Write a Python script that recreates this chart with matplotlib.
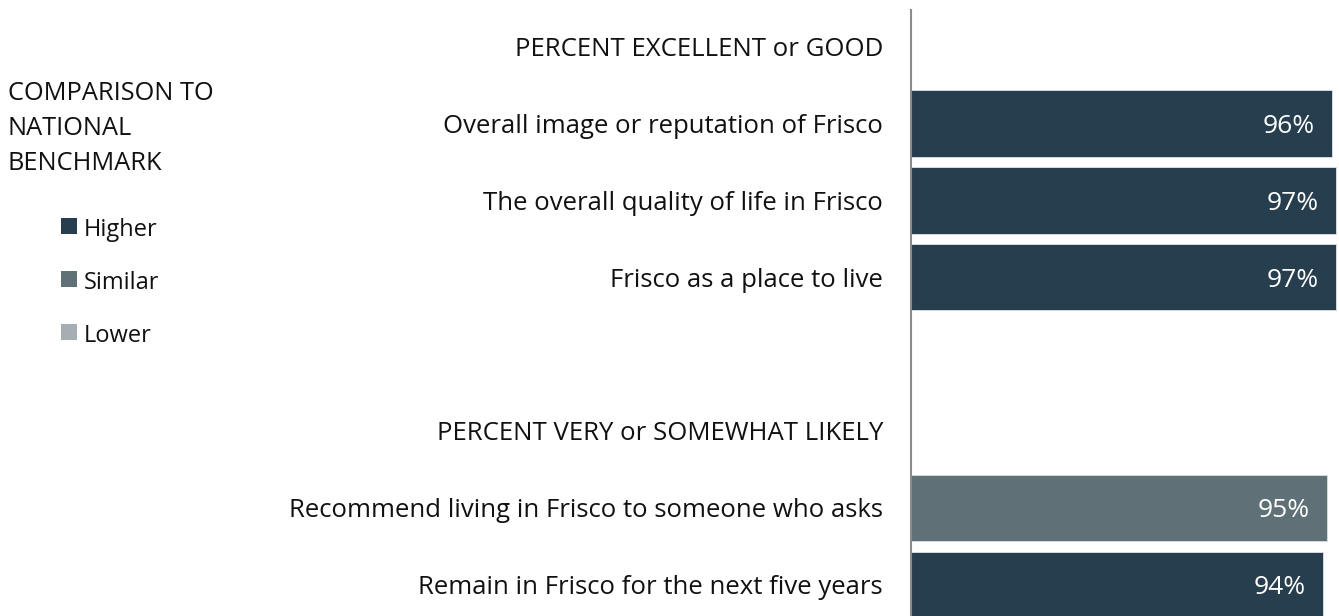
import matplotlib
matplotlib.use("Agg")
import matplotlib.pyplot as plt
from matplotlib.patches import Rectangle

plt.rcParams['font.family'] = ['Open Sans', 'DejaVu Sans']

# ---- data ----
row_labels = [
    "PERCENT EXCELLENT or GOOD",
    "Overall image or reputation of Frisco",
    "The overall quality of life in Frisco",
    "Frisco as a place to live",
    "",
    "PERCENT VERY or SOMEWHAT LIKELY",
    "Recommend living in Frisco to someone who asks",
    "Remain in Frisco for the next five years",
]
values = [None, 96, 97, 97, None, None, 95, 94]
benchmark = [None, "Higher", "Higher", "Higher", None, None, "Similar", "Higher"]
legend_labels = ["Higher", "Similar", "Lower"]
legend_title = "COMPARISON TO\nNATIONAL\nBENCHMARK"

colors = {"Higher": "#273E4E", "Similar": "#5F7177", "Lower": "#A6AEB4"}

W, H = 1339, 616
fig = plt.figure(figsize=(W / 100, H / 100), dpi=100)

ax_left = 910.7 / W
ax = fig.add_axes([ax_left, 0, 1 - ax_left, 1 - 9.5 / H])
scale100 = 438.5  # pixels for 100%
ax.set_xlim(0, (W - 910.7) / scale100 * 100)

step = 76.9
top_c = 46.5
ax.set_ylim((H - top_c) / step, (9.5 - top_c) / step)

rows = list(range(len(row_labels)))
bar_rows = [r for r in rows if values[r] is not None]
bar_vals = [values[r] for r in bar_rows]
bar_cols = [colors[benchmark[r]] for r in bar_rows]
ax.barh(bar_rows, bar_vals, height=0.865, color=bar_cols,
        edgecolor="#D5DADD", linewidth=0.7, zorder=2)

for r, v in zip(bar_rows, bar_vals):
    ax.annotate(f"{v}%", xy=(v, r), xytext=(-12.3, 0), textcoords="offset points",
                ha="right", va="center_baseline", color="white", fontsize=19, zorder=3)

ax.set_yticks(rows)
ax.set_yticklabels(row_labels, fontsize=18.5, color="#111111")
ax.tick_params(axis="y", length=0, pad=20)
ax.set_xticks([])
for s in ["top", "right", "bottom"]:
    ax.spines[s].set_visible(False)
ax.spines["left"].set_color("#8C8C8C")
ax.spines["left"].set_linewidth(1.5)

# legend block
fig.text(8 / W, 1 - 81 / H, legend_title, ha="left", va="top", fontsize=18.3,
         color="#111111", linespacing=1.52)
leg_y = [226, 279, 332]
for lab, y in zip(legend_labels, leg_y):
    fig.patches.append(Rectangle((61 / W, 1 - (y + 8) / H), 16 / W, 16 / H,
                                 transform=fig.transFigure, facecolor=colors[lab],
                                 edgecolor="none"))
    fig.text(84 / W, 1 - (y + 1) / H, lab, ha="left", va="center_baseline",
             fontsize=17, color="#111111")

fig.savefig("out.png", dpi=100)
